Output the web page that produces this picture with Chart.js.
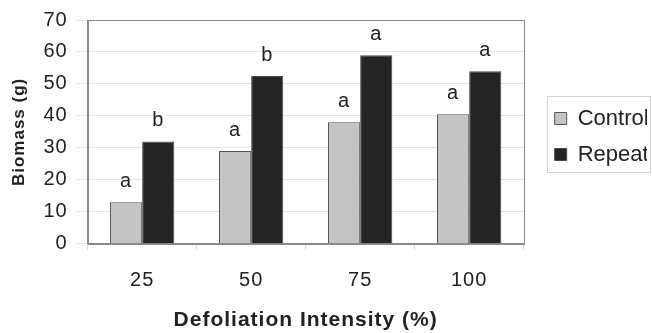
<!DOCTYPE html>
<html>
<head>
<meta charset="utf-8">
<script src="https://cdn.jsdelivr.net/npm/chart.js@4"></script>
<style>
  html, body { margin: 0; padding: 0; background: #fff; }
  #wrap { width: 652px; height: 333px; }
</style>
</head>
<body>
<div id="wrap"><canvas id="chart" width="652" height="333"></canvas></div>
<script>
// ---- Data ----
const categories = ['25', '50', '75', '100'];
const controlValues = [13, 29, 38, 40.5];
const repeatValues = [32, 52.5, 59, 54];
const controlLetters = ['a', 'a', 'a', 'a'];
const repeatLetters = ['b', 'b', 'a', 'a'];
const yTicks = [0, 10, 20, 30, 40, 50, 60, 70];

const FONT = "'Liberation Sans', Arial, sans-serif";

// the original type is a little spread out
// (canvas resize wipes ctx state, so set it again before layout and draw)
// legend text is left unspaced so its measured width stays right
const spacingPlugin = {
  id: 'spacing',
  beforeUpdate(chart) { chart.ctx.letterSpacing = '1px'; },
  afterUpdate(chart) {
    const lg = chart.legend;
    if (lg && !lg._unspaced) {
      const draw = lg.draw.bind(lg);
      lg.draw = (...args) => {
        chart.ctx.letterSpacing = '0px';
        draw(...args);
        chart.ctx.letterSpacing = '1px';
      };
      lg._unspaced = true;
    }
  },
  beforeDraw(chart) { chart.ctx.letterSpacing = '1px'; }
};

// letters above each bar
const letterPlugin = {
  id: 'letters',
  afterDatasetsDraw(chart) {
    const { ctx } = chart;
    const sets = [controlLetters, repeatLetters];
    ctx.save();
    ctx.font = `20px ${FONT}`;
    ctx.fillStyle = '#222';
    ctx.textAlign = 'center';
    ctx.textBaseline = 'alphabetic';
    chart.data.datasets.forEach((ds, i) => {
      const meta = chart.getDatasetMeta(i);
      meta.data.forEach((bar, j) => {
        ctx.fillText(sets[i][j], bar.x, bar.y - 15);
      });
    });
    ctx.restore();
  }
};

// plot frame + legend frame
const framePlugin = {
  id: 'frames',
  afterDraw(chart) {
    const { ctx, chartArea: a, legend } = chart;
    ctx.save();
    ctx.strokeStyle = '#8a8a8a';
    ctx.lineWidth = 1;
    ctx.strokeRect(Math.round(a.left) + 0.5, Math.round(a.top) + 0.5,
      Math.round(a.right - a.left), Math.round(a.bottom - a.top));
    if (legend && legend.legendHitBoxes.length) {
      const hb = legend.legendHitBoxes;
      const first = hb[0], last = hb[hb.length - 1];
      const x0 = Math.round(first.left - 8);
      const y0 = Math.round(first.top + first.height / 2 - 23);
      const y1 = Math.round(last.top + last.height / 2 + 17);
      ctx.strokeStyle = '#d4d4d4';
      ctx.strokeRect(x0 + 0.5, y0 + 0.5, 650 - x0, y1 - y0);
    }
    ctx.restore();
  }
};

new Chart(document.getElementById('chart'), {
  type: 'bar',
  data: {
    labels: categories,
    datasets: [
      {
        label: 'Control',
        data: controlValues,
        backgroundColor: '#c4c4c4',
        borderColor: '#555555',
        borderWidth: 1,
        borderSkipped: 'bottom'
      },
      {
        label: 'Repeat',
        data: repeatValues,
        backgroundColor: '#242424',
        borderColor: '#4a4a4a',
        borderWidth: 1,
        borderSkipped: 'bottom'
      }
    ]
  },
  options: {
    responsive: false,
    animation: false,
    devicePixelRatio: 1,
    layout: { padding: { top: 10, right: 5, left: 9, bottom: 0 } },
    datasets: { bar: { categoryPercentage: 0.59, barPercentage: 1 } },
    plugins: {
      legend: {
        position: 'right',
        fullSize: false,
        // empty title only nudges the entries down a little
        title: { display: true, text: ' ', font: { size: 1 }, padding: 4 },
        labels: {
          boxWidth: 12,
          boxHeight: 12,
          padding: 14,
          color: '#222',
          font: { family: FONT, size: 22 }
        }
      },
      tooltip: { enabled: false }
    },
    scales: {
      x: {
        grid: {
          offset: true,
          drawOnChartArea: false,
          tickLength: 6,
          color: '#d8d8d8'
        },
        border: { color: '#8a8a8a' },
        ticks: { color: '#222', font: { family: FONT, size: 20 }, padding: 19 },
        title: {
          display: true,
          text: 'Defoliation Intensity (%)',
          color: '#222',
          font: { family: FONT, size: 21, weight: 'bold' },
          padding: { top: -4, bottom: 0 }
        }
      },
      y: {
        min: 0,
        max: 70,
        afterBuildTicks: (axis) => { axis.ticks = yTicks.map(v => ({ value: v })); },
        grid: { color: '#e6e6e6', tickLength: 12 },
        border: { color: '#8a8a8a' },
        ticks: { color: '#222', font: { family: FONT, size: 20 }, padding: 8 },
        title: {
          display: true,
          text: 'Biomass (g)',
          color: '#222',
          font: { family: FONT, size: 17, weight: 'bold' },
          padding: { top: 0, bottom: 6 }
        }
      },
      // empty spacer between the plot and the legend
      gap: {
        type: 'linear',
        position: 'right',
        grid: { display: false },
        border: { display: false },
        ticks: { display: false },
        afterFit: (axis) => { axis.width = 17; }
      }
    }
  },
  plugins: [spacingPlugin, letterPlugin, framePlugin]
});
</script>
</body>
</html>
